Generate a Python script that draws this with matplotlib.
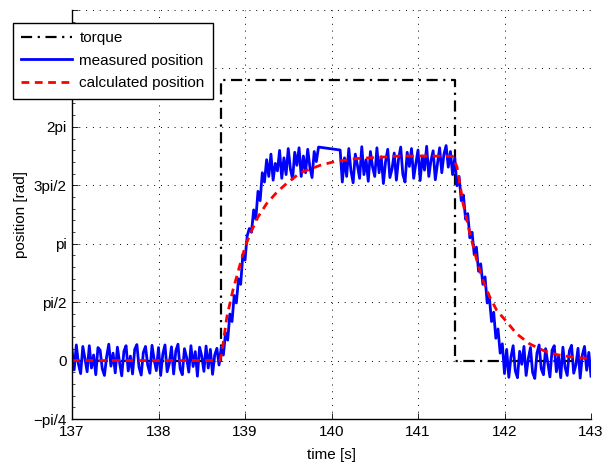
import numpy as np
import matplotlib
matplotlib.use("Agg")
import matplotlib.pyplot as plt

plt.rcParams['font.family'] = ['Liberation Sans', 'DejaVu Sans']

# torque step (scaled into the plot)
torque_t = [137.0, 138.72, 138.72, 141.43, 141.43, 143.0]
torque_y = [0.0, 0.0, 7.54, 7.54, 0.0, 0.0]

# measured position, sampled every 0.025 s, with a logging gap around 140 s
meas_dt = 0.025
meas_a_t0 = 137.0
meas_a = [
    0.30, -0.25, 0.42, -0.10, -0.35, 0.38, 0.05, -0.30, 0.40, -0.20,
    0.15, -0.38, 0.35, 0.28, -0.22, -0.40, 0.10, 0.44, -0.15, 0.20,
    -0.33, 0.36, -0.05, -0.41, 0.25, 0.40, -0.28, 0.12, -0.36, 0.30,
    0.43, -0.18, -0.39, 0.22, 0.38, -0.12, -0.34, 0.41, 0.02, -0.27,
    0.35, -0.40, 0.18, 0.42, -0.30, -0.08, 0.37, -0.36, 0.26, 0.44,
    -0.22, -0.38, 0.32, 0.08, -0.31, 0.40, -0.16, 0.24, -0.42, 0.36,
    0.12, -0.29, 0.39, -0.20, 0.30, -0.37, 0.15, 0.33, -0.12,
    0.35, 0.15, 0.75, 0.55, 1.25, 1.05, 1.75, 1.55, 2.20, 2.05,
    2.85, 2.70, 3.35, 3.55, 3.45, 4.05, 3.80, 4.55, 4.30, 5.05,
    4.80, 5.40, 4.95, 5.55, 4.85, 5.30, 5.10, 5.65, 4.90, 5.45,
    5.00, 5.70, 5.15, 4.88, 5.60, 5.25, 5.72, 4.95, 5.50, 5.05,
    5.68, 5.20, 4.92, 5.62, 5.35, 5.74,
]
meas_b_t0 = 140.1
meas_b = [
    5.66, 4.80, 5.45, 4.95, 5.70, 5.10, 4.78, 5.55, 5.25, 4.90,
    5.75, 5.00, 5.40, 4.82, 5.62, 5.20, 4.95, 5.72, 5.05, 5.48,
    4.76, 5.35, 5.68, 4.92, 5.15, 5.58, 4.85, 5.42, 5.74, 5.00,
    4.80, 5.60, 5.22, 5.70, 4.90, 5.30, 5.66, 4.84, 5.50, 5.12,
    5.76, 4.95, 5.38, 5.64, 4.86, 5.28, 5.72, 5.05, 5.55, 5.78,
    5.20, 5.62, 5.00, 5.45,
    4.70, 4.95, 4.30, 4.45, 3.80, 3.95, 3.30, 3.45, 2.85, 3.05,
    2.40, 2.60, 2.05, 2.25, 1.55, 1.70, 1.05, 1.30, 0.60, 0.85,
    0.20, 0.45,
    -0.35, 0.30, -0.45, 0.10, 0.40, -0.28, -0.46, 0.25, -0.10, 0.38,
    -0.40, 0.05, 0.35, -0.32, -0.48, 0.20, 0.42, -0.22, -0.38, 0.32,
    -0.05, -0.44, 0.28, 0.40, -0.30, 0.12, -0.46, 0.36, -0.18, -0.40,
    0.26, 0.41, -0.34, -0.12, 0.33, -0.47, 0.15, 0.38, -0.26, 0.22, -0.42,
]

# calculated (model) position
calc_t = [137.0, 138.71, 138.73, 138.79, 138.86, 138.94, 139.0, 139.06, 139.15,
          139.25, 139.37, 139.48, 139.64, 139.87, 140.02, 140.29, 140.52, 140.79,
          141.10, 141.40, 141.45, 141.49, 141.52, 141.60, 141.68, 141.75, 141.83,
          141.91, 142.03, 142.14, 142.29, 142.45, 142.60, 142.80, 143.0]
calc_y = [0.0, 0.0, 0.18, 1.17, 1.89, 2.56, 3.05, 3.41, 3.86,
          4.22, 4.53, 4.76, 5.05, 5.25, 5.34, 5.43, 5.46, 5.50,
          5.50, 5.49, 5.21, 4.67, 4.23, 3.42, 2.69, 2.16, 1.71,
          1.35, 1.03, 0.72, 0.45, 0.27, 0.16, 0.09, 0.05]

ytick_labels = ['\u2212pi/4', '0', 'pi/2', 'pi', '3pi/2', '2pi', '', '']

# assemble measured series (straight line over the gap)
t_a = meas_a_t0 + meas_dt * np.arange(len(meas_a))
t_b = meas_b_t0 + meas_dt * np.arange(len(meas_b))
meas_t = np.concatenate([t_a, t_b])
meas_y = np.concatenate([meas_a, meas_b])

fig = plt.figure(figsize=(6.05, 4.63), dpi=100)
ax = fig.add_axes([72 / 605, 1 - 419 / 463, (591 - 72) / 605, (419 - 10) / 463])

ax.plot(torque_t, torque_y, color='black', linestyle=(0, (5, 2.5, 1, 2.5)), lw=1.6,
        label='torque')
ax.plot(meas_t, meas_y, color='blue', lw=2.0, label='measured position')
ax.plot(calc_t, calc_y, color='red', linestyle=(0, (2.8, 2.0)), lw=2.0,
        label='calculated position')

ax.set_xlim(137, 143)
ax.set_ylim(-np.pi / 2, 3 * np.pi)
ax.set_xticks(range(137, 144))
yt = [k * np.pi / 2 for k in range(-1, 7)]
ax.set_yticks(yt)
ax.set_yticklabels(ytick_labels)
ax.set_yticks(np.arange(-np.pi / 2, 3 * np.pi + 0.01, np.pi / 10), minor=True)

ax.grid(True, color='black', linestyle=(0, (1, 6)), lw=0.7)
for s in ['top', 'right']:
    ax.spines[s].set_visible(False)
ax.spines['left'].set_linewidth(1.0)
ax.spines['bottom'].set_linewidth(1.0)
ax.tick_params(direction='in', labelsize=11, length=4, width=0.6, pad=4)
ax.tick_params(which='minor', direction='in', length=2, width=0.5)
ax.tick_params(axis='x', which='minor', bottom=False)

ax.set_xlabel('time [s]', fontsize=11, labelpad=7)
ax.set_ylabel('position [rad]', fontsize=11, labelpad=4)

leg = fig.legend(loc='upper left', bbox_to_anchor=(13 / 605, 1 - 23 / 463),
                 borderaxespad=0, fancybox=False, edgecolor='black', framealpha=1,
                 fontsize=11, handlelength=3.3, labelspacing=0.55,
                 borderpad=0.55, handletextpad=0.5)
leg.get_frame().set_linewidth(1.0)

fig.savefig('out.png', dpi=100)
